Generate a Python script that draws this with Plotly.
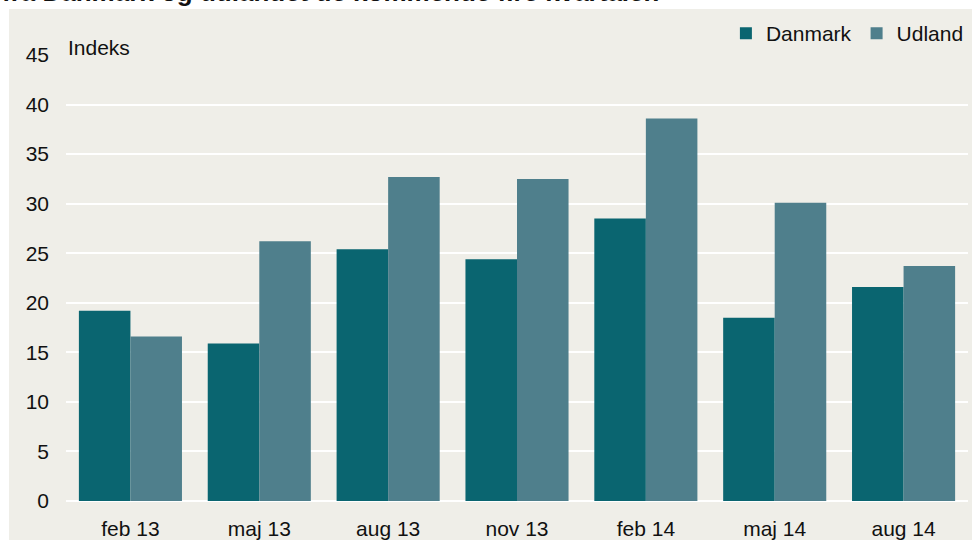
import plotly.graph_objects as go

kvartaler = ["feb 13", "maj 13", "aug 13", "nov 13", "feb 14", "maj 14", "aug 14"]
danmark = [19.2, 15.9, 25.4, 24.4, 28.5, 18.5, 21.6]
udland = [16.6, 26.2, 32.7, 32.5, 38.6, 30.1, 23.7]

fig = go.Figure()
fig.add_trace(go.Bar(x=kvartaler, y=danmark, name="Danmark", marker_color="#0A6570", marker_line_width=0))
fig.add_trace(go.Bar(x=kvartaler, y=udland, name="Udland", marker_color="#4F7F8C", marker_line_width=0))

fig.update_layout(
    width=976, height=542,
    margin=dict(l=66, r=8, t=55, b=41, autoexpand=False),
    paper_bgcolor="white",
    plot_bgcolor="#E0DFD4",
    font=dict(family="Arial, Liberation Sans, sans-serif", size=21, color="#111111"),
    barmode="group", bargap=0.2, bargroupgap=0,
    legend=dict(orientation="h", x=1.001, xanchor="right", xref="paper",
                y=0.938, yanchor="middle", yref="container",
                bgcolor="rgba(0,0,0,0)", font=dict(size=21), itemwidth=30,
                tracegroupgap=0),
    showlegend=True,
)
fig.update_yaxes(range=[0, 45], dtick=5, showgrid=True, gridcolor="white", gridwidth=2,
                 zeroline=True, zerolinecolor="white", zerolinewidth=2,
                 ticks="", ticklabelstandoff=16, tickfont=dict(size=21))
fig.update_xaxes(showgrid=False, ticks="", ticklabelstandoff=13, tickfont=dict(size=21))

# beige background panel, white strip at the top
fig.add_shape(type="rect", xref="paper", yref="paper", x0=-0.0632, x1=1.0044, y0=-0.0874, y1=1.1031,
              fillcolor="#EFEEE8", line_width=0, layer="below")
fig.add_annotation(text="Indeks", xref="paper", yref="paper", x=0.0, y=0.9865, xanchor="left", yanchor="bottom",
                   showarrow=False, font=dict(size=21))
# title is cut off at the top edge in the original
fig.add_annotation(text="<b>fra Danmark og udlandet de kommende fire kvartaler.</b>", xref="paper", yref="paper",
                   x=-0.0732, y=1.1413, xanchor="left", yanchor="middle", showarrow=False, font=dict(size=26))

fig.write_html("out.html", config={"displayModeBar": False},
               post_script="document.body.style.margin='0';")
